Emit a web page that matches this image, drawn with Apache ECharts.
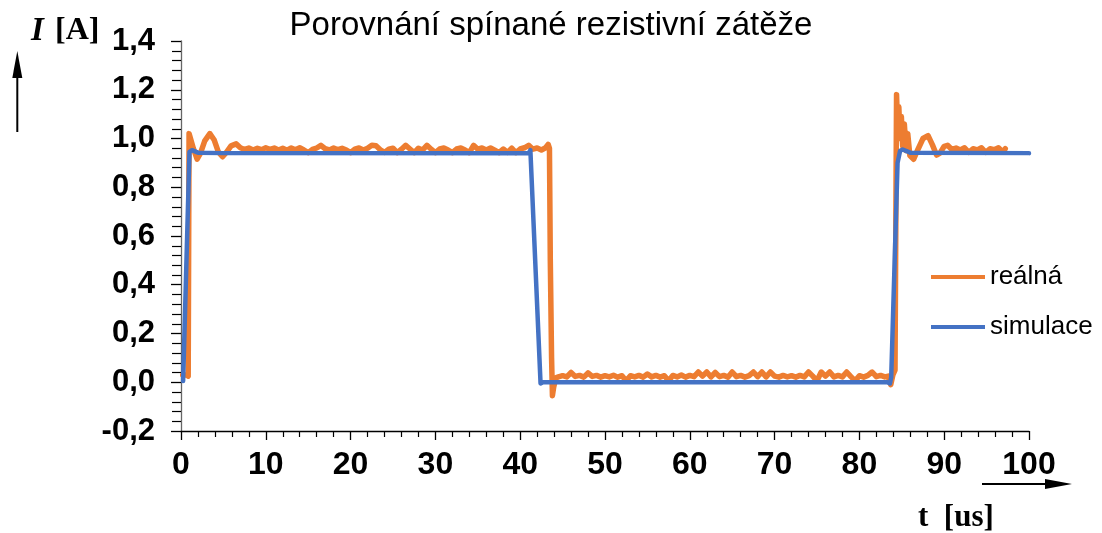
<!DOCTYPE html>
<html>
<head>
<meta charset="utf-8">
<title>Porovnání spínané rezistivní zátěže</title>
<script src="https://cdn.jsdelivr.net/npm/echarts@6/dist/echarts.min.js"></script>
<style>
  html, body { margin: 0; padding: 0; background: #fff; }
  #chart { width: 1102px; height: 533px; }
</style>
</head>
<body>
<div id="chart"></div>
<script>
// osa x: t [us], osa y: I [A]
var xTicks = { min: 0, max: 100, step: 10 };
var yTicks = { min: -0.2, max: 1.4, step: 0.2 };
var seriesNames = ["reálná", "simulace"];

// reálná – změřený průběh [t, I]
var realna = [
  [0.2,0.03],[0.6,0.03],[0.85,0.025],[0.95,1.02],[1.15,1.02],[1.45,0.96],[1.9,0.915],[2.3,0.94],
  [2.8,0.99],[3.4,1.02],[3.9,0.995],[4.4,0.945],[4.9,0.925],[5.4,0.945],[5.9,0.97],[6.5,0.978],
  [7.0,0.962],[7.5,0.955],[8.0,0.961],[8.5,0.953],[9.0,0.960],[9.5,0.954],[10.0,0.962],[10.5,0.955],
  [11.0,0.961],[11.5,0.953],[12.0,0.960],[12.5,0.952],[13.0,0.961],[13.5,0.954],[14.0,0.962],[14.5,0.953],
  [15.0,0.942],[15.5,0.955],[16.0,0.961],[16.5,0.972],[17.0,0.958],[17.5,0.953],[18.0,0.961],[18.5,0.954],
  [19.0,0.960],[19.5,0.953],[20.0,0.942],[20.5,0.956],[21.0,0.961],[21.5,0.953],[22.0,0.960],[22.5,0.972],
  [23.0,0.970],[23.5,0.954],[24.0,0.943],[24.5,0.956],[25.0,0.960],[25.5,0.942],[26.0,0.956],[26.5,0.972],
  [27.0,0.957],[27.5,0.942],[28.0,0.960],[28.5,0.953],[29.0,0.972],[29.5,0.956],[30.0,0.942],[30.5,0.957],
  [31.0,0.961],[31.5,0.953],[32.0,0.942],[32.5,0.957],[33.0,0.961],[33.5,0.953],[34.0,0.942],[34.5,0.972],
  [35.0,0.956],[35.5,0.961],[36.0,0.953],[36.5,0.961],[37.0,0.952],[37.5,0.942],[38.0,0.957],[38.5,0.943],
  [39.0,0.960],[39.5,0.942],[40.0,0.957],[40.5,0.962],[41.0,0.972],[41.5,0.956],[42.0,0.961],[42.5,0.953],
  [43.0,0.962],[43.3,0.976],[43.45,0.96],[43.55,0.5],[43.7,0.1],[43.8,-0.055],[43.95,-0.02],[44.2,0.018],
  [44.5,0.022],[45.0,0.027],[45.5,0.022],[46.0,0.04],[46.5,0.024],[47.0,0.028],[47.5,0.021],[48.0,0.038],
  [48.5,0.024],[49.0,0.028],[49.5,0.021],[50.0,0.027],[50.5,0.022],[51.0,0.029],[51.5,0.021],[52.0,0.027],
  [52.5,0.006],[53.0,0.027],[53.5,0.022],[54.0,0.028],[54.5,0.021],[55.0,0.034],[55.5,0.022],[56.0,0.028],
  [56.5,0.021],[57.0,0.027],[57.5,0.006],[58.0,0.028],[58.5,0.022],[59.0,0.03],[59.5,0.021],[60.0,0.028],
  [60.5,0.023],[61.0,0.042],[61.5,0.025],[62.0,0.042],[62.5,0.022],[63.0,0.04],[63.5,0.023],[64.0,0.028],
  [64.5,0.021],[65.0,0.042],[65.5,0.023],[66.0,0.028],[66.5,0.021],[67.0,0.027],[67.5,0.042],[68.0,0.023],
  [68.5,0.042],[69.0,0.022],[69.5,0.042],[70.0,0.025],[70.5,0.021],[71.0,0.028],[71.5,0.022],[72.0,0.027],
  [72.5,0.021],[73.0,0.028],[73.5,0.022],[74.0,0.042],[74.5,0.025],[75.0,0.006],[75.5,0.042],[76.0,0.025],
  [76.5,0.042],[77.0,0.022],[77.5,0.028],[78.0,0.022],[78.5,0.042],[79.0,0.023],[79.5,0.006],[80.0,0.027],
  [80.5,0.021],[81.0,0.028],[81.5,0.042],[82.0,0.023],[82.5,0.028],[83.0,0.022],[83.4,0.025],[83.7,-0.01],
  [83.95,0.03],[84.2,0.05],[84.38,1.18],[84.5,1.05],[84.65,1.13],[84.8,1.0],[84.95,1.09],[85.1,0.97],
  [85.3,1.06],[85.5,0.95],[85.7,1.02],[85.95,0.93],[86.4,0.915],[86.9,0.955],[87.5,1.0],[88.1,1.012],
  [88.6,0.975],[89.1,0.932],[89.5,0.94],[90.0,0.968],[90.4,0.972],[90.9,0.955],[91.4,0.961],[91.9,0.953],
  [92.4,0.962],[92.9,0.943],[93.4,0.958],[93.9,0.953],[94.4,0.962],[94.9,0.943],[95.4,0.958],[95.9,0.954],
  [96.4,0.962],[96.9,0.945],[97.2,0.958]
];

// simulace [t, I]
var simulace = [
  [0.25,0.005],[0.45,0.0],[1.0,0.945],[1.3,0.952],[2.0,0.942],[5.0,0.94],[41.0,0.94],[41.2,0.952],
  [41.4,0.945],[42.4,-0.005],[42.7,0.0],[83.3,0.0],[83.6,-0.005],[83.75,0.02],[84.5,0.9],[84.8,0.95],
  [85.1,0.955],[86.0,0.942],[100,0.94]
];

var chart = echarts.init(document.getElementById("chart"), null, { renderer: "canvas" });

var sans = "'Liberation Sans', Arial, sans-serif";
var serif = "'Liberation Serif', 'Times New Roman', serif";

var option = {
  animation: false,
  backgroundColor: "#fff",
  title: {
    text: "Porovnání spínané rezistivní zátěže",
    left: "center",
    top: 4,
    textStyle: { fontFamily: sans, fontSize: 33, fontWeight: "normal", color: "#000" }
  },
  legend: {
    orient: "vertical",
    left: 926,
    top: 259,
    itemWidth: 54,
    itemHeight: 4,
    itemGap: 24,
    icon: "rect",
    data: seriesNames,
    textStyle: { fontFamily: sans, fontSize: 26, color: "#000" }
  },
  grid: { left: 181, right: 73, top: 41, bottom: 102 },
  xAxis: {
    type: "value",
    min: xTicks.min,
    max: xTicks.max,
    interval: xTicks.step,
    axisLine: { onZero: false, lineStyle: { color: "#000", width: 1.3 } },
    axisTick: { length: 9, lineStyle: { color: "#000", width: 1.3 } },
    minorTick: { show: true, splitNumber: 5, length: 6, lineStyle: { color: "#000", width: 1.2 } },
    splitLine: { show: false },
    axisLabel: { margin: 18, fontFamily: sans, fontSize: 32, fontWeight: "bold", color: "#000" }
  },
  yAxis: {
    type: "value",
    min: yTicks.min,
    max: yTicks.max,
    interval: yTicks.step,
    axisLine: { show: true, lineStyle: { color: "#666", width: 1.3 } },
    axisTick: { show: true, length: 10, lineStyle: { color: "#000", width: 1.3 } },
    minorTick: { show: true, splitNumber: 5, length: 9, lineStyle: { color: "#000", width: 1.2 } },
    splitLine: { show: false },
    axisLabel: {
      margin: 26, fontFamily: sans, fontSize: 31, fontWeight: "bold", color: "#000",
      formatter: function (v) { return v.toFixed(1).replace(".", ","); }
    }
  },
  series: [
    {
      name: seriesNames[0],
      type: "line",
      data: realna,
      showSymbol: false,
      color: "#ED7D31",
      lineStyle: { width: 5.5, cap: "round", join: "round" }
    },
    {
      name: seriesNames[1],
      type: "line",
      data: simulace,
      showSymbol: false,
      color: "#4472C4",
      lineStyle: { width: 4.5, cap: "round", join: "round" }
    }
  ],
  graphic: [
    // popisek osy y a šipka
    { type: "text", x: 31, y: 31, style: { text: "I", font: "italic bold 33px " + serif, fill: "#000", verticalAlign: "middle" } },
    { type: "text", x: 55, y: 31, style: { text: "[A]", font: "bold 32px " + serif, fill: "#000", verticalAlign: "middle" } },
    { type: "line", shape: { x1: 17.3, y1: 132, x2: 17.3, y2: 70 }, style: { stroke: "#000", lineWidth: 2 } },
    { type: "polygon", shape: { points: [[17.3, 51], [12.3, 78], [22.3, 78]] }, style: { fill: "#000" } },
    // popisek osy x a šipka
    { type: "text", x: 918, y: 518, style: { text: "t  [us]", font: "bold 31px " + serif, fill: "#000", verticalAlign: "middle" } },
    { type: "line", shape: { x1: 982, y1: 484, x2: 1050, y2: 484 }, style: { stroke: "#000", lineWidth: 2 } },
    { type: "polygon", shape: { points: [[1072, 484], [1045, 479], [1045, 489]] }, style: { fill: "#000" } }
  ]
};

chart.setOption(option);
</script>
</body>
</html>
